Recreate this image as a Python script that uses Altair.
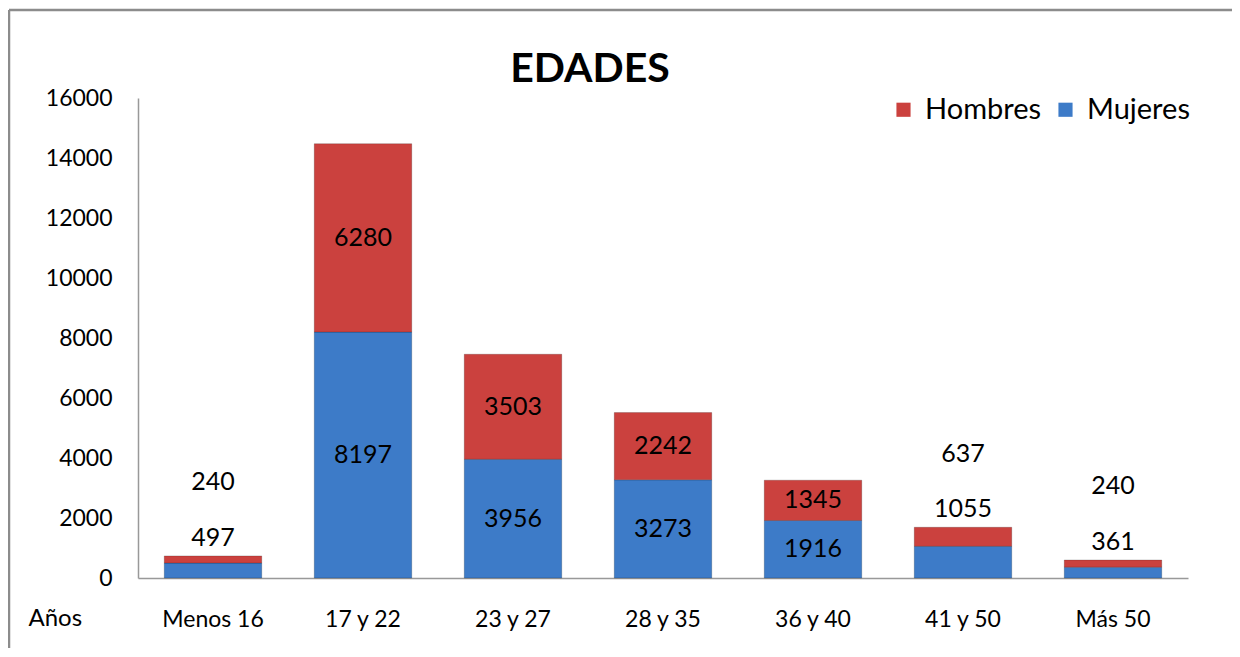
import altair as alt
import pandas as pd

categories = ["Menos 16", "17 y 22", "23 y 27", "28 y 35", "36 y 40", "41 y 50", "Más 50"]
mujeres = [497, 8197, 3956, 3273, 1916, 1055, 361]
hombres = [240, 6280, 3503, 2242, 1345, 637, 240]
series = ["Hombres", "Mujeres"]
colors = ["#CB413E", "#3D7BC8"]

rows = []
for c, m, h in zip(categories, mujeres, hombres):
    total = m + h
    small = total < 2000
    rows.append({"cat": c, "serie": "Mujeres", "ord": 0, "val": m,
                 "y0": 0, "y1": m,
                 "ly": total + 600 if small else m / 2})
    rows.append({"cat": c, "serie": "Hombres", "ord": 1, "val": h,
                 "y0": m, "y1": total,
                 "ly": total + 2450 if small else m + h / 2})
df = pd.DataFrame(rows)

FONT = "Lato"

x_enc = alt.X("cat:N", sort=categories,
              scale=alt.Scale(paddingInner=0.35, paddingOuter=0.175),
              axis=alt.Axis(title="Años", titleX=-110, titleY=47, titleAlign="left",
                            titleBaseline="alphabetic", titleFontSize=24,
                            titleFontWeight="normal", titleColor="#000000",
                            labelAngle=0, labelFontSize=23, labelColor="#000000",
                            labelPadding=30, ticks=False, domainColor="#999999",
                            domainWidth=1.5))

bars = alt.Chart(df).mark_bar(stroke="#00000030", strokeWidth=1).encode(
    x=x_enc,
    y=alt.Y("y0:Q", scale=alt.Scale(domain=[0, 16000], nice=False),
            axis=alt.Axis(title=None, values=list(range(0, 16001, 2000)), grid=False,
                          format="d", ticks=False, labelFontSize=23, labelColor="#000000",
                          labelPadding=26, domainColor="#999999", domainWidth=1.5)),
    y2="y1:Q",
    color=alt.Color("serie:N", scale=alt.Scale(domain=series, range=colors),
                    legend=alt.Legend(title=None, orient="none", legendX=751, legendY=-3,
                                      direction="horizontal", symbolType="square",
                                      symbolSize=200, symbolStrokeWidth=0,
                                      labelFontSize=29, labelColor="#000000",
                                      labelOffset=7, columnPadding=9, padding=0)),
)

labels = alt.Chart(df).mark_text(fontSize=25, color="#000000", baseline="middle").encode(
    x=alt.X("cat:N", sort=categories),
    y=alt.Y("ly:Q"),
    text=alt.Text("val:Q", format="d"),
)

one = alt.Data(values=[{"k": 1}])
title = alt.Chart(one).mark_text(text="EDADES", fontSize=41, fontWeight="bold",
                                 color="#000000", align="center",
                                 baseline="alphabetic").encode(
    x=alt.value(452), y=alt.value(-16))
frame_top = alt.Chart(one).mark_rule(color="#8c8c8c", strokeWidth=2.5).encode(
    x=alt.value(-129), x2=alt.value(1120), y=alt.value(-88))
frame_left = alt.Chart(one).mark_rule(color="#8c8c8c", strokeWidth=2.5).encode(
    x=alt.value(-129), y=alt.value(-88), y2=alt.value(560))

chart = alt.layer(frame_top, frame_left, title, bars, labels).properties(
    width=1050, height=480,
    autosize=alt.AutoSizeParams(type="none"),
    padding={"left": 130, "top": 90, "right": 44, "bottom": 70},
).configure(font=FONT).configure_view(stroke=None)

chart.save("out.html", embed_options={"renderer": "svg", "actions": False})
